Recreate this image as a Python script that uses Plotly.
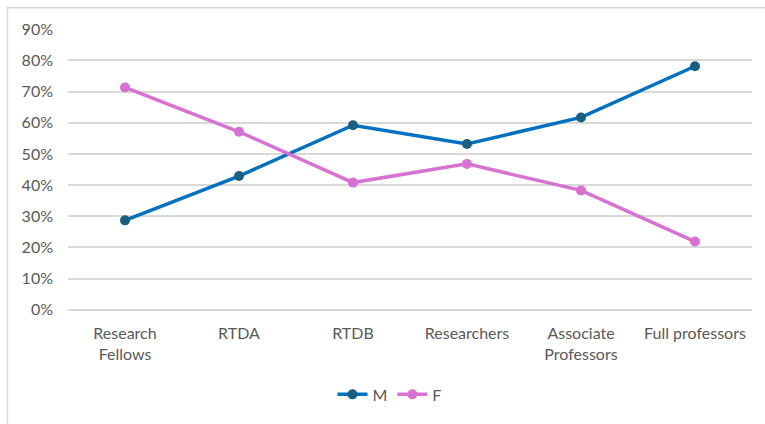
import plotly.graph_objects as go

categories = ["Research<br>Fellows", "RTDA", "RTDB", "Researchers", "Associate<br>Professors", "Full professors"]
m_values = [0.287, 0.429, 0.592, 0.532, 0.617, 0.781]
f_values = [0.713, 0.571, 0.408, 0.468, 0.383, 0.219]
y_ticks = [0, 0.1, 0.2, 0.3, 0.4, 0.5, 0.6, 0.7, 0.8, 0.9]
y_ticklabels = ["0%", "10%", "20%", "30%", "40%", "50%", "60%", "70%", "80%", "90%"]

fig = go.Figure()
fig.add_trace(go.Scatter(
    x=categories, y=m_values, name="M", mode="lines+markers",
    line=dict(color="#0070C0", width=3.5),
    marker=dict(color="#1B5E80", size=10),
))
fig.add_trace(go.Scatter(
    x=categories, y=f_values, name="F", mode="lines+markers",
    line=dict(color="#D872D2", width=3.5),
    marker=dict(color="#D872D2", size=10),
))

font_color = "#595959"
fig.update_layout(
    width=765, height=424,
    margin=dict(l=68, r=13, t=29, b=111),
    paper_bgcolor="white", plot_bgcolor="white",
    font=dict(family="Lato", size=16, color=font_color),
    showlegend=True,
    legend=dict(orientation="h", x=0.47, xanchor="center", y=-0.24, yanchor="top",
                font=dict(size=16, color=font_color)),
    xaxis=dict(type="category", range=[-0.5, 5.5],
               showgrid=False, showline=False, ticks="", zeroline=False,
               ticklabelstandoff=12, tickfont=dict(size=16, color=font_color)),
    yaxis=dict(range=[-0.0005, 0.9005], tickvals=y_ticks, ticktext=y_ticklabels,
               showgrid=True, gridcolor="#D9D9D9", gridwidth=1.5,
               zeroline=True, zerolinecolor="#D9D9D9", zerolinewidth=1.5,
               showline=False, ticks="", ticklabelstandoff=14,
               tickfont=dict(size=16, color=font_color)),
    shapes=[dict(type="rect", xref="paper", yref="paper",
                 x0=(7.5 - 68) / 684, x1=1.2, y0=-0.6, y1=(313 - 7.5) / 284,
                 line=dict(color="#D9D9D9", width=1.5), fillcolor="rgba(0,0,0,0)",
                 layer="below")],
)

fig.write_html("out.html")
